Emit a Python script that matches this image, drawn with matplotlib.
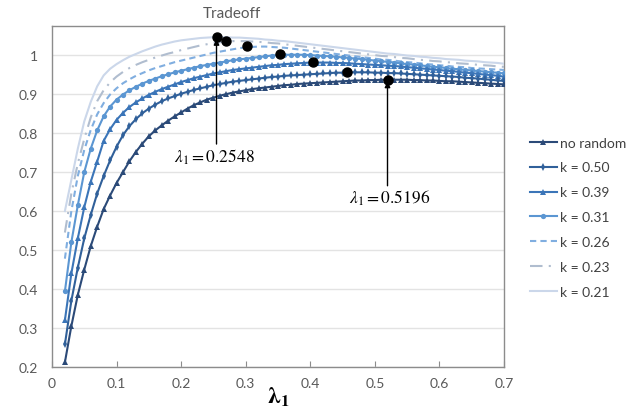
import numpy as np
import matplotlib
matplotlib.use('Agg')
import matplotlib.pyplot as plt

plt.rcParams['font.family'] = ['Lato', 'DejaVu Sans']
plt.rcParams['mathtext.fontset'] = 'stix'

# lambda_1 sampled every 0.01 from 0.02 to 0.70
lam = np.round(np.arange(2, 71) / 100, 2)

no_random = [0.212, 0.305, 0.385, 0.450, 0.510, 0.560, 0.605, 0.640, 0.672, 0.700,
             0.728, 0.752, 0.773, 0.792, 0.807, 0.820, 0.832, 0.843, 0.853, 0.863,
             0.872, 0.879, 0.886, 0.891, 0.896, 0.900, 0.904, 0.907, 0.910, 0.913,
             0.915, 0.917, 0.919, 0.921, 0.923, 0.924, 0.926, 0.927, 0.928, 0.929,
             0.930, 0.931, 0.932, 0.933, 0.934, 0.935, 0.935, 0.936, 0.936, 0.937,
             0.937, 0.937, 0.937, 0.937, 0.936, 0.936, 0.935, 0.935, 0.934, 0.933,
             0.933, 0.932, 0.931, 0.930, 0.929, 0.928, 0.927, 0.926, 0.925]
k050 = [0.258, 0.370, 0.455, 0.530, 0.590, 0.645, 0.690, 0.730, 0.765, 0.795,
        0.818, 0.836, 0.851, 0.863, 0.873, 0.882, 0.889, 0.895, 0.901, 0.906,
        0.911, 0.915, 0.919, 0.923, 0.926, 0.929, 0.932, 0.934, 0.936, 0.938,
        0.940, 0.942, 0.944, 0.945, 0.947, 0.948, 0.949, 0.950, 0.951, 0.952,
        0.953, 0.954, 0.955, 0.955, 0.956, 0.956, 0.956, 0.956, 0.955, 0.955,
        0.954, 0.954, 0.953, 0.952, 0.951, 0.950, 0.949, 0.948, 0.947, 0.946,
        0.945, 0.944, 0.942, 0.941, 0.940, 0.938, 0.937, 0.935, 0.934]
k039 = [0.320, 0.440, 0.530, 0.610, 0.675, 0.727, 0.780, 0.810, 0.834, 0.852,
        0.867, 0.879, 0.889, 0.898, 0.906, 0.913, 0.919, 0.925, 0.931, 0.936,
        0.941, 0.945, 0.949, 0.953, 0.956, 0.959, 0.962, 0.964, 0.966, 0.968,
        0.970, 0.972, 0.974, 0.975, 0.977, 0.978, 0.979, 0.980, 0.981, 0.981,
        0.981, 0.981, 0.980, 0.980, 0.979, 0.978, 0.977, 0.976, 0.975, 0.974,
        0.973, 0.972, 0.971, 0.969, 0.968, 0.966, 0.965, 0.963, 0.962, 0.960,
        0.959, 0.957, 0.955, 0.954, 0.952, 0.950, 0.949, 0.947, 0.945]
k031 = [0.394, 0.520, 0.615, 0.700, 0.760, 0.807, 0.843, 0.868, 0.886, 0.899,
        0.910, 0.919, 0.927, 0.934, 0.940, 0.946, 0.951, 0.956, 0.960, 0.964,
        0.968, 0.972, 0.975, 0.978, 0.981, 0.984, 0.987, 0.989, 0.991, 0.993,
        0.995, 0.997, 0.999, 1.000, 1.001, 1.001, 1.001, 1.001, 1.000, 0.999,
        0.998, 0.997, 0.996, 0.994, 0.993, 0.991, 0.990, 0.988, 0.986, 0.984,
        0.983, 0.981, 0.979, 0.977, 0.976, 0.974, 0.972, 0.970, 0.969, 0.967,
        0.965, 0.964, 0.962, 0.961, 0.959, 0.958, 0.956, 0.955, 0.953]
k026 = [0.478, 0.600, 0.690, 0.757, 0.808, 0.848, 0.877, 0.899, 0.915, 0.928,
        0.938, 0.947, 0.954, 0.961, 0.967, 0.972, 0.977, 0.982, 0.986, 0.990,
        0.994, 0.998, 1.002, 1.006, 1.009, 1.012, 1.015, 1.018, 1.020, 1.021,
        1.022, 1.022, 1.021, 1.020, 1.019, 1.017, 1.015, 1.013, 1.011, 1.009,
        1.007, 1.005, 1.003, 1.001, 0.999, 0.997, 0.995, 0.993, 0.991, 0.989,
        0.988, 0.986, 0.984, 0.982, 0.981, 0.979, 0.977, 0.976, 0.974, 0.973,
        0.971, 0.970, 0.969, 0.967, 0.966, 0.965, 0.964, 0.963, 0.962]
k023 = [0.545, 0.645, 0.722, 0.785, 0.840, 0.882, 0.910, 0.930, 0.945, 0.957,
        0.967, 0.975, 0.982, 0.988, 0.994, 0.999, 1.004, 1.008, 1.013, 1.017,
        1.021, 1.025, 1.028, 1.031, 1.033, 1.035, 1.036, 1.036, 1.036, 1.035,
        1.034, 1.033, 1.031, 1.030, 1.028, 1.026, 1.024, 1.022, 1.020, 1.018,
        1.016, 1.014, 1.012, 1.010, 1.008, 1.006, 1.004, 1.002, 1.000, 0.998,
        0.997, 0.995, 0.993, 0.992, 0.990, 0.988, 0.987, 0.985, 0.984, 0.982,
        0.981, 0.979, 0.978, 0.977, 0.975, 0.974, 0.973, 0.971, 0.970]
k021 = [0.600, 0.680, 0.760, 0.830, 0.880, 0.920, 0.948, 0.965, 0.977, 0.987,
        0.996, 1.003, 1.010, 1.016, 1.022, 1.027, 1.031, 1.035, 1.038, 1.040,
        1.042, 1.044, 1.045, 1.046, 1.046, 1.046, 1.045, 1.045, 1.044, 1.043,
        1.042, 1.040, 1.039, 1.037, 1.036, 1.034, 1.032, 1.030, 1.028, 1.026,
        1.024, 1.022, 1.020, 1.018, 1.016, 1.014, 1.012, 1.010, 1.008, 1.006,
        1.004, 1.003, 1.001, 0.999, 0.998, 0.996, 0.995, 0.993, 0.992, 0.990,
        0.989, 0.988, 0.986, 0.985, 0.984, 0.982, 0.981, 0.980, 0.978]

labels = ['no random', 'k = 0.50', 'k = 0.39', 'k = 0.31', 'k = 0.26', 'k = 0.23', 'k = 0.21']
series = [no_random, k050, k039, k031, k026, k023, k021]
colors = ['#2b4a78', '#30609a', '#3b75b8', '#5b96d2', '#80aee0', '#b0bdcf', '#cbd7ea']
styles = ['-', '-', '-', '-', (0, (3, 2)), (0, (6, 3, 1, 3)), '-']
markers = ['^', 'd', '^', 'o', None, None, None]

# peak points of each curve (black dots)
peak_x = [0.2548, 0.270, 0.302, 0.353, 0.404, 0.457, 0.5196]
peak_y = [1.046, 1.036, 1.023, 1.003, 0.982, 0.956, 0.937]

fig = plt.figure(figsize=(6.3, 4.14), dpi=100)
ax = fig.add_axes([0.0825, 0.111, 0.7175, 0.824])

handles = [None] * len(series)
for i in reversed(range(len(series))):
    h, = ax.plot(lam, series[i], color=colors[i], linestyle=styles[i], lw=1.5,
                 marker=markers[i], markersize=3.8, markeredgewidth=0,
                 label=labels[i], zorder=3 + (len(series) - i))
    handles[i] = h

ax.plot(peak_x, peak_y, 'o', color='black', markersize=6.5, zorder=20)

# arrows to the two marked optima
ax.annotate('', xy=(0.2548, 1.041), xytext=(0.2548, 0.772),
            arrowprops=dict(arrowstyle='-|>', color='black', lw=1.0,
                            mutation_scale=8, shrinkA=0, shrinkB=0), zorder=21)
ax.text(0.251, 0.741, r'$\lambda_1 = 0.2548$', ha='center', va='center', fontsize=12.5)
ax.annotate('', xy=(0.5196, 0.932), xytext=(0.5196, 0.665),
            arrowprops=dict(arrowstyle='-|>', color='black', lw=1.0,
                            mutation_scale=8, shrinkA=0, shrinkB=0), zorder=21)
ax.text(0.523, 0.635, r'$\lambda_1 = 0.5196$', ha='center', va='center', fontsize=12.5)

ax.set_xlim(0, 0.7)
ax.set_ylim(0.2, 1.075)
ax.set_xticks([0, 0.1, 0.2, 0.3, 0.4, 0.5, 0.6, 0.7])
ax.set_xticklabels(['0', '0.1', '0.2', '0.3', '0.4', '0.5', '0.6', '0.7'])
ax.set_yticks([0.2, 0.3, 0.4, 0.5, 0.6, 0.7, 0.8, 0.9, 1.0])
ax.set_yticklabels(['0.2', '0.3', '0.4', '0.5', '0.6', '0.7', '0.8', '0.9', '1'])
ax.yaxis.grid(True, color='#e3e3e3', lw=1.0)
ax.set_axisbelow(True)
ax.tick_params(axis='x', direction='in', length=4, color='#8c8c8c', labelsize=10,
               labelcolor='#595959', pad=7)
ax.tick_params(axis='y', length=0, labelsize=10, labelcolor='#595959', pad=10)
for s in ax.spines.values():
    s.set_color('#8c8c8c')
    s.set_linewidth(1.0)

ax.set_xlabel(r'$\mathbf{\lambda_1}$', fontsize=17, labelpad=-3)
fig.text(232 / 630, 1 - 14 / 414, 'Tradeoff', ha='center', va='center',
         fontsize=11, color='#595959')

fig.legend(handles=handles, labels=labels, loc='upper left',
           bbox_to_anchor=(524 / 630, 1 - 132 / 414), frameon=False,
           fontsize=10, handlelength=2.0, handletextpad=0.2, labelspacing=0.93,
           borderaxespad=0, labelcolor='#404040')

fig.savefig('out.png', dpi=100)
